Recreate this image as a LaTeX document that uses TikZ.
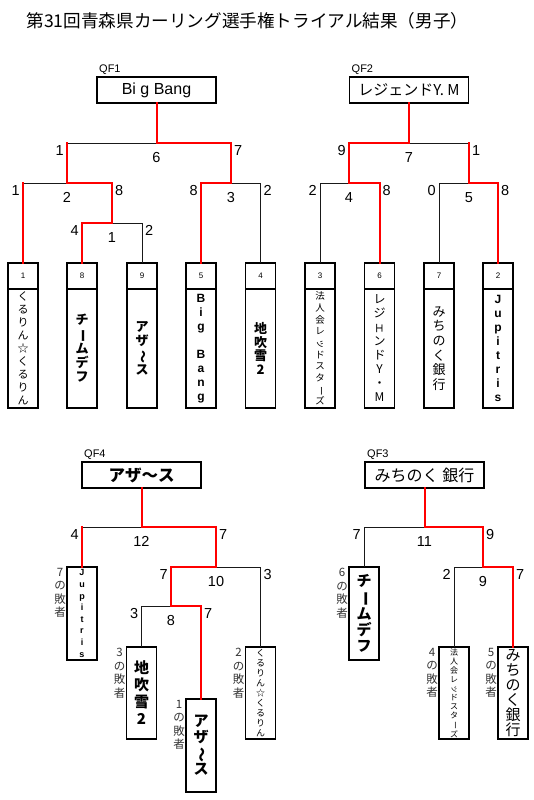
\documentclass[tikz,border=0pt]{standalone}
\usepackage{fontspec}
\setmainfont{Liberation Sans}
\newfontfamily\jp{Noto Sans CJK JP}
\usepackage{graphicx}
\usepackage{xcolor}
\definecolor{winred}{RGB}{255,0,0}
\usetikzlibrary{positioning}
\newcommand{\rt}[1]{\rotatebox[origin=c]{-90}{#1}}
\newcommand{\fs}[2]{\fontsize{#1}{#2}\selectfont}

\begin{document}
\begin{tikzpicture}[x=1pt, y=-1pt, every node/.style={inner sep=1pt},
    redpath/.style={draw=winred, line width=2pt, line cap=rect},
    blackpath/.style={draw=black!90, line width=0.9pt},
    score/.style={font=\fs{14.5}{16}, inner sep=1pt}]
    \tikzstyle{qfbox}=[draw, line width=1.3pt, outer sep=0pt, minimum width=119pt, minimum height=26pt, inner sep=0pt]
    \tikzstyle{qflabel}=[anchor=south west, font=\fs{11}{12}, inner sep=0pt]
    \tikzstyle{numcell}=[draw, line width=1.3pt, outer sep=0pt, minimum width=30pt, minimum height=26pt, inner sep=0pt, font=\fs{8}{9}]
    \tikzstyle{namecell}=[draw, line width=1.3pt, outer sep=0pt, minimum width=30pt, minimum height=119pt, inner sep=0pt, align=center]
    \tikzstyle{loserbox}=[draw, line width=1.3pt, outer sep=0pt, minimum width=30pt, minimum height=93pt, inner sep=0pt, align=center, anchor=north]
    \tikzstyle{loserlabel}=[anchor=north east, align=center, font=\jp\fs{11.5}{13.5}, text=black!80, inner sep=0pt]

    \fill[white] (0,0) rectangle (533,800);
    \useasboundingbox (0,0) rectangle (533,800);

    \node[font=\jp\fs{17.6}{20}] (title) at (247.5,21) {第31回青森県カーリング選手権トライアル結果（男子）};

    % Final boxes
    \node[qfbox, font=\fs{16}{18}] (qf1) at (156.5,90) {Bi g Bang};
    \node[qfbox, font=\jp\fs{15}{17}] (qf2) at (409,90) {レジェンドY. M};
    \node[qfbox, font=\jp\bfseries\fs{16.5}{18}] (qf4) at (141.5,475) {アザ〜ス};
    \node[qfbox, font=\jp\fs{16}{18}] (qf3) at (424.5,475) {みちのく 銀行};
    \node[qflabel] (qf1lab) at ([xshift=2pt,yshift=2pt]qf1.north west) {QF1};
    \node[qflabel] (qf2lab) at ([xshift=2pt,yshift=2pt]qf2.north west) {QF2};
    \node[qflabel] (qf4lab) at ([xshift=2pt,yshift=2pt]qf4.north west) {QF4};
    \node[qflabel] (qf3lab) at ([xshift=2pt,yshift=2pt]qf3.north west) {QF3};

    % Seeded teams
    \foreach \seed/\x in {1/23, 8/82, 9/142, 5/201, 4/260.5, 3/320, 6/379.5, 7/439, 2/498}
        \node[numcell] (n\seed) at (\x,276) {\seed};
    \node[namecell, below=0pt of n1, font=\jp\fs{11}{13}] (t1) {く\\る\\り\\ん\\☆\\く\\る\\り\\ん};
    \node[namecell, below=0pt of n8, font=\jp\bfseries\fs{13}{14.3}] (t8) {チ\\\rt{ー}\\ム\\デ\\フ};
    \node[namecell, below=0pt of n9, font=\jp\bfseries\fs{13}{14.4}] (t9) {ア\\ザ\\\rt{〜}\\ス};
    \node[namecell, below=0pt of n5, font=\bfseries\fs{12}{14}] (t5) {B\\i\\g\\\mbox{}\\B\\a\\n\\g};
    \node[namecell, below=0pt of n4, font=\jp\bfseries\fs{13}{13.7}] (t4) {地\\吹\\雪\\2};
    \node[namecell, below=0pt of n3, font=\jp\fs{9.5}{11.7}] (t3) {法\\人\\会\\レ\\\rt{ッ}\\ド\\ス\\タ\\\rt{ー}\\ズ};
    \node[namecell, below=0pt of n6, font=\jp\fs{12}{14}] (t6) {レ\\ジ\\\rt{ェ}\\ン\\ド\\Y\\・\\M};
    \node[namecell, below=0pt of n7, font=\jp\fs{13}{14.6}] (t7) {み\\ち\\の\\く\\銀\\行};
    \node[namecell, below=0pt of n2, font=\bfseries\fs{12}{14}] (t2) {J\\u\\p\\i\\t\\r\\i\\s};

    % Losers' bracket teams
    \node[loserbox, font=\bfseries\fs{9}{11.6}] (l7) at (82,567) {J\\u\\p\\i\\t\\r\\i\\s};
    \node[loserbox, minimum height=92pt, font=\jp\bfseries\fs{15}{17}] (l3) at (141.5,647) {地\\吹\\雪\\2};
    \node[loserbox, font=\jp\bfseries\fs{15}{16}] (l1) at (201,699) {ア\\ザ\\\rt{〜}\\ス};
    \node[loserbox, minimum height=92pt, font=\jp\fs{9}{10.1}] (l2) at (260.5,647) {く\\る\\り\\ん\\☆\\く\\る\\り\\ん};
    \node[loserbox, font=\jp\bfseries\fs{15}{16.25}] (l6) at (364,567) {チ\\\rt{ー}\\ム\\デ\\フ};
    \node[loserbox, minimum height=92pt, font=\jp\fs{8}{9}] (l4) at (454,647) {法\\人\\会\\レ\\\rt{ッ}\\ド\\ス\\タ\\\rt{ー}\\ズ};
    \node[loserbox, minimum height=92pt, font=\jp\fs{15}{15}] (l5) at (513,647) {み\\ち\\の\\く\\銀\\行};
    \foreach \who in {7,3,1,2,6,4,5}
        \node[loserlabel] (lab\who) at ([xshift=-1pt,yshift=-1pt]l\who.north west) {\who\\の\\敗\\者};

    % Match junctions
    \coordinate (m6) at (156.5,143); \coordinate (m6l) at (67,143); \coordinate (m6r) at (231,143);
    \coordinate (m2) at (67,183); \coordinate (m2l) at (23,183); \coordinate (m2r) at (112,183);
    \coordinate (m1) at (112,223); \coordinate (m1l) at (82,223); \coordinate (m1r) at (142,223);
    \coordinate (m3) at (231,183); \coordinate (m3l) at (201,183); \coordinate (m3r) at (260.5,183);
    \coordinate (m7) at (409,143); \coordinate (m7l) at (349,143); \coordinate (m7r) at (469,143);
    \coordinate (m4) at (349,183); \coordinate (m4l) at (320,183); \coordinate (m4r) at (379.5,183);
    \coordinate (m5) at (469,183); \coordinate (m5l) at (439,183); \coordinate (m5r) at (498,183);
    \coordinate (m12) at (141.5,527); \coordinate (m12l) at (82,527); \coordinate (m12r) at (216,527);
    \coordinate (m10) at (216,567); \coordinate (m10l) at (171,567); \coordinate (m10r) at (260.5,567);
    \coordinate (m8) at (171,606); \coordinate (m8l) at (141.5,606); \coordinate (m8r) at (201,606);
    \coordinate (m11) at (424.5,527); \coordinate (m11l) at (364,527); \coordinate (m11r) at (483,527);
    \coordinate (m9) at (483,567); \coordinate (m9l) at (454,567); \coordinate (m9r) at (513,567);

    % Lost sides
    \draw[blackpath] (m6) -- (m6l);
    \draw[blackpath] (m2) -- (m2l);
    \draw[blackpath] (m1) -- (m1r) -- (n9.north);
    \draw[blackpath] (m3) -- (m3r) -- (n4.north);
    \draw[blackpath] (m7) -- (m7r);
    \draw[blackpath] (m4) -- (m4l) -- (n3.north);
    \draw[blackpath] (m5) -- (m5l) -- (n7.north);
    \draw[blackpath] (m12) -- (m12l);
    \draw[blackpath] (m10) -- (m10r) -- (l2.north);
    \draw[blackpath] (m8) -- (m8l) -- (l3.north);
    \draw[blackpath] (m11) -- (m11l) -- (l6.north);
    \draw[blackpath] (m9) -- (m9l) -- (l4.north);

    % Winning paths
    \draw[redpath] (qf1.south) -- (m6) -- (m6r) -- (m3) -- (m3l) -- (n5.north);
    \draw[redpath] (m6l) -- (m2) -- (m2r) -- (m1) -- (m1l) -- (n8.north);
    \draw[redpath] (m2l) -- (n1.north);
    \draw[redpath] (qf2.south) -- (m7) -- (m7l) -- (m4) -- (m4r) -- (n6.north);
    \draw[redpath] (m7r) -- (m5) -- (m5r) -- (n2.north);
    \draw[redpath] (qf4.south) -- (m12) -- (m12r) -- (m10) -- (m10l) -- (m8) -- (m8r) -- (l1.north);
    \draw[redpath] (m12l) -- (l7.north);
    \draw[redpath] (qf3.south) -- (m11) -- (m11r) -- (m9) -- (m9r) -- (l5.north);

    % Scores
    \foreach \match/\lscore/\mscore/\rscore in {m6/1/6/7, m2/1/2/8, m1/4/1/2, m3/8/3/2, m7/9/7/1, m4/2/4/8, m5/0/5/8,
            m12/4/12/7, m10/7/10/3, m8/3/8/7, m11/7/11/9, m9/2/9/7} {
        \node[score, anchor=north east] (\match la) at ([xshift=-2pt,yshift=-1pt]\match l) {\lscore};
        \node[score, anchor=north] (\match mi) at ([yshift=-8pt]\match) {\mscore};
        \node[score, anchor=north west] (\match ri) at ([xshift=2pt,yshift=-1pt]\match r) {\rscore};
    }
\end{tikzpicture}
\end{document}
